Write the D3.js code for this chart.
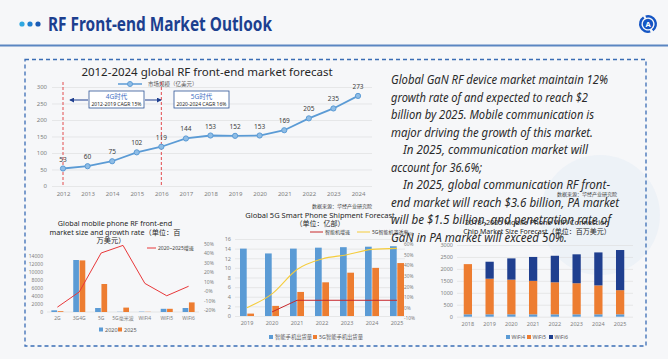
<!DOCTYPE html>
<html><head><meta charset="utf-8">
<script src="https://cdn.jsdelivr.net/npm/d3@7"></script>
<style>
body{margin:0;background:#f6f7f9;}
svg{display:block;}
text{font-family:"Noto Sans","Noto Sans CJK SC",sans-serif;}
</style></head>
<body>
<svg id="c" width="668" height="359"></svg>
<script>
// ---------- DATA ----------
const pageTitle = "RF Front-end Market Outlook";

const rfYears = ["2012","2013","2014","2015","2016","2017","2018","2019","2020","2021","2022","2023","2024"];
const rfMarket = [53,60,75,102,119,144,153,152,153,169,205,235,273];
const rfTicks = [0,50,100,150,200,250,300];

const paragraph = [
  "Global GaN RF device market maintain 12%",
  "growth rate of and expected to reach $2",
  "billion by 2025. Mobile communication is",
  "major driving the growth of this market.",
  "In 2025, communication market will",
  "account for 36.6%;",
  "In 2025, global communication RF front-",
  "end market will reach $3.6 billion, PA market",
  "will be $1.5 billion, and penetration rate of",
  "GaN in PA market will exceed 50%."
];
const paragraphIndent = [0,0,0,0,1,0,1,0,0,0];
const paragraphWidth = [217,197,203,202,185,91,207,228,220,176];

const phoneCats = ["2G","3G4G","5G","5G毫米波","WiFi4","WiFi5","WiFi6"];
const phone2020 = [420,13000,1000,50,80,800,1000];
const phone2025 = [200,12900,7000,1100,50,800,2400];
const phoneGrowth = [-17,-1,40,48,8,-5,5];
const phoneTicks = [0,2000,4000,6000,8000,10000,12000,14000];
const phoneRateTicks = [-20,-10,0,10,20,30,40,50];
const phoneRateLabels = ["-20%","-10%","-0%","10%","20%","30%","40%","50%"];

const shipYears = ["2019","2020","2021","2022","2023","2024","2025"];
const shipAll = [14,13,14,14.2,14.3,14.4,14.5];
const ship5G = [0.5,2.1,5,7,9,10,11];
const shipGrowth = [null,-4,7,7,7,7,7];
const ship5GRate = [0,13,36,46,50,55,56];
const shipTicks = [0,2,4,6,8,10,12,14,16];
const shipRateTicks = [-10,0,10,20,30,40,50,60,70];

const wifiYears = ["2018","2019","2020","2021","2022","2023","2024","2025"];
const wifi4 = [100,100,100,100,100,100,100,100];
const wifi5 = [2100,1490,1450,1400,1340,1300,1210,1010];
const wifi6 = [0,710,890,1000,1110,1210,1380,1680];
const wifiTicks = [0,500,1000,1500,2000,2500,3000];

// ---------- DRAW ----------
const svg = d3.select("#c");
const BLUE="#5b9bd5", ORANGE="#ed7d31", NAVY="#1f3f8f", GRID="#dcdcdc", AX="#7f7f7f";
const pct = v => (v<0?"-":"") + Math.abs(v) + "%";
const plain = d3.format("d");

// background watermark
svg.append("circle").attr("cx",600).attr("cy",215).attr("r",60).attr("fill","#e9f0f7").attr("opacity",0.7);

// header
[["#2fa8e0",22],["#1f7fd0",30],["#1a5bb5",38]].forEach(([c,x])=>
  svg.append("circle").attr("cx",x).attr("cy",24).attr("r",2.6).attr("fill",c));
svg.append("text").attr("x",48).attr("y",31).attr("font-size",20).attr("font-weight",700)
  .attr("fill","#1c3f8f").attr("textLength",224).attr("lengthAdjust","spacingAndGlyphs").text(pageTitle);
svg.append("line").attr("x1",0).attr("x2",668).attr("y1",45.5).attr("y2",45.5).attr("stroke","#5a86c2").attr("stroke-width",2);
// logo
const lg = svg.append("g").attr("transform","translate(648,24)");
lg.append("path").attr("d",d3.arc()({innerRadius:6.5,outerRadius:9,startAngle:-0.3,endAngle:2.5})).attr("fill","#1656c4");
lg.append("path").attr("d",d3.arc()({innerRadius:6.5,outerRadius:9,startAngle:2.85,endAngle:5.7})).attr("fill","#1656c4");
lg.append("circle").attr("r",5.2).attr("fill","#1656c4");
lg.append("text").attr("y",3).attr("text-anchor","middle").attr("font-size",7.5).attr("font-weight",700).attr("fill","#fff").text("A");

// dashed frame
svg.append("rect").attr("x",25).attr("y",59.5).attr("width",621).attr("height",286.5)
  .attr("fill","none").attr("stroke","#3a6db5").attr("stroke-width",1.3).attr("stroke-dasharray","4,3");

// ===== Chart 1: line =====
{
  const g = svg.append("g");
  const x = d3.scalePoint().domain(rfYears).range([63,358]);
  const y = d3.scaleLinear().domain([0,300]).range([186,87]);
  g.append("text").attr("x",207).attr("y",76).attr("text-anchor","middle").attr("font-size",11.5).attr("fill","#262626").text("2012-2024 global RF front-end market forecast");
  const ya = g.append("g").attr("transform","translate(52,0)")
    .call(d3.axisLeft(y).tickValues(rfTicks).tickSize(-320).tickPadding(5));
  ya.select(".domain").remove();
  ya.selectAll("line").attr("stroke",GRID).attr("stroke-width",0.6);
  ya.selectAll("text").attr("font-size",6).attr("fill",AX);
  const xa = g.append("g").attr("transform","translate(0,186)").call(d3.axisBottom(x).tickSize(0).tickPadding(6));
  xa.select(".domain").remove();
  xa.selectAll("text").attr("font-size",6).attr("fill",AX);
  // legend
  g.append("line").attr("x1",118).attr("x2",142).attr("y1",84).attr("y2",84).attr("stroke",BLUE).attr("stroke-width",1.5);
  g.append("circle").attr("cx",130).attr("cy",84).attr("r",2.5).attr("fill","#8fbde6").attr("stroke",BLUE);
  g.append("text").attr("x",148).attr("y",86).attr("font-size",5.5).attr("fill","#595959").text("市场规模（亿美元）");
  // red dashed era lines
  ["2012","2016"].forEach(yr=>g.append("line").attr("x1",x(yr)).attr("x2",x(yr)).attr("y1",82).attr("y2",186)
    .attr("stroke","#e0383a").attr("stroke-width",0.9).attr("stroke-dasharray","3,2"));
  // era boxes
  const box=(x0,w,t1,t2)=>{
    g.append("rect").attr("x",x0).attr("y",91).attr("width",w).attr("height",17).attr("fill","#fff").attr("stroke","#2f5597").attr("stroke-width",0.8);
    g.append("text").attr("x",x0+w/2).attr("y",99).attr("text-anchor","middle").attr("font-size",6.5).attr("fill","#4472c4").text(t1);
    g.append("text").attr("x",x0+w/2).attr("y",105.5).attr("text-anchor","middle").attr("font-size",5).attr("fill","#262626").text(t2);
  };
  box(89,55,"4G时代","2012-2019 CAGR 15%");
  box(174,55,"5G时代","2020-2024 CAGR 16%");
  const defs = svg.append("defs");
  defs.append("marker").attr("id","ah").attr("viewBox","0 0 6 6").attr("refX",5).attr("refY",3)
    .attr("markerWidth",5).attr("markerHeight",5).attr("orient","auto-start-reverse")
    .append("path").attr("d","M0,0L6,3L0,6Z").attr("fill","#1f3f8f");
  g.append("line").attr("x1",88).attr("x2",70).attr("y1",100).attr("y2",100).attr("stroke","#1f3f8f").attr("marker-end","url(#ah)");
  g.append("line").attr("x1",145).attr("x2",161).attr("y1",100).attr("y2",100).attr("stroke","#1f3f8f").attr("marker-end","url(#ah)");
  // line
  g.append("path").datum(rfMarket).attr("fill","none").attr("stroke",BLUE).attr("stroke-width",1.8)
    .attr("d",d3.line().x((d,i)=>x(rfYears[i])).y(d=>y(d)));
  g.selectAll(".pt").data(rfMarket).join("circle").attr("cx",(d,i)=>x(rfYears[i])).attr("cy",d=>y(d))
    .attr("r",2.6).attr("fill","#8fbde6").attr("stroke",BLUE).attr("stroke-width",1);
  g.selectAll(".lb").data(rfMarket).join("text").attr("x",(d,i)=>x(rfYears[i])).attr("y",d=>y(d)-7)
    .attr("text-anchor","middle").attr("font-size",6.5).attr("fill","#404040").text(d=>d);
  g.append("text").attr("x",372).attr("y",208).attr("text-anchor","end").attr("font-size",5).attr("fill","#404040").text("数据来源：华经产业研究院");
}

// ===== Chart 2: phone RF grouped bars =====
{
  const g = svg.append("g");
  ["Global mobile phone RF front-end","market size and growth rate（单位：百","万美元）"].forEach((t,i)=>
    g.append("text").attr("x",[115,115,111][i]).attr("y",226+i*8.5).attr("text-anchor","middle").attr("font-size",7.2).attr("fill","#262626").text(t));
  const x = d3.scaleBand().domain(phoneCats).range([47,199]).paddingInner(0.45).paddingOuter(0.2);
  const xs = d3.scaleBand().domain(["a","b"]).range([0,x.bandwidth()]).paddingInner(0.1);
  const y = d3.scaleLinear().domain([0,14000]).range([312,256]);
  const y2 = d3.scaleLinear().domain([-20,50]).range([310,243.5]);
  const ya = g.append("g").attr("transform","translate(47,0)").call(d3.axisLeft(y).tickValues(phoneTicks).tickFormat(plain).tickSize(0).tickPadding(4));
  ya.select(".domain").remove(); ya.selectAll("text").attr("font-size",5).attr("fill",AX);
  const yb = g.append("g").attr("transform","translate(201,0)").call(d3.axisRight(y2).tickValues(phoneRateTicks).tickFormat((d,i)=>phoneRateLabels[i]).tickSize(0).tickPadding(3));
  yb.select(".domain").remove(); yb.selectAll("text").attr("font-size",5).attr("fill",AX);
  g.append("line").attr("x1",47).attr("x2",199).attr("y1",312).attr("y2",312).attr("stroke",GRID).attr("stroke-width",0.7);
  const xa = g.append("g").attr("transform","translate(0,312)").call(d3.axisBottom(x).tickSize(0).tickPadding(4));
  xa.select(".domain").remove(); xa.selectAll("text").attr("font-size",5).attr("fill",AX);
  g.selectAll(".b1").data(phone2020).join("rect").attr("x",(d,i)=>x(phoneCats[i])+xs("a")).attr("width",xs.bandwidth())
    .attr("y",d=>y(d)).attr("height",d=>312-y(d)).attr("fill",BLUE);
  g.selectAll(".b2").data(phone2025).join("rect").attr("x",(d,i)=>x(phoneCats[i])+xs("b")).attr("width",xs.bandwidth())
    .attr("y",d=>y(d)).attr("height",d=>312-y(d)).attr("fill",ORANGE);
  g.append("path").datum(phoneGrowth).attr("fill","none").attr("stroke","#e8383a").attr("stroke-width",1)
    .attr("d",d3.line().x((d,i)=>x(phoneCats[i])+x.bandwidth()/2).y(d=>y2(d)));
  g.append("line").attr("x1",147).attr("x2",156).attr("y1",248).attr("y2",248).attr("stroke","#e8383a").attr("stroke-width",1);
  g.append("text").attr("x",158).attr("y",250).attr("font-size",5).attr("fill","#404040").text("2020~2025增速");
  [["2020",BLUE,99],["2025",ORANGE,118]].forEach(([t,c,lx])=>{
    g.append("rect").attr("x",lx).attr("y",327.5).attr("width",4).attr("height",4).attr("fill",c);
    g.append("text").attr("x",lx+6).attr("y",331.5).attr("font-size",5.5).attr("fill","#595959").text(t);
  });
}

// ===== Chart 3: 5G shipment =====
{
  const g = svg.append("g");
  g.append("text").attr("x",320).attr("y",218).attr("text-anchor","middle").attr("font-size",7.5).attr("fill","#262626").text("Global 5G Smart Phone Shipment Forecast");
  g.append("text").attr("x",320).attr("y",226).attr("text-anchor","middle").attr("font-size",7).attr("fill","#262626").text("（单位：亿部）");
  const x = d3.scaleBand().domain(shipYears).range([234.5,409.5]).paddingInner(0.44).paddingOuter(0.22);
  const xs = d3.scaleBand().domain(["a","b"]).range([0,x.bandwidth()]).paddingInner(0.08);
  const y = d3.scaleLinear().domain([0,16]).range([316,239]);
  const y2 = d3.scaleLinear().domain([-10,70]).range([318.3,233.5]);
  const ya = g.append("g").attr("transform","translate(235,0)").call(d3.axisLeft(y).tickValues(shipTicks).tickSize(-170).tickPadding(4));
  ya.select(".domain").remove(); ya.selectAll("line").attr("stroke",GRID).attr("stroke-width",0.6);
  ya.selectAll("text").attr("font-size",5.5).attr("fill",AX);
  const yb = g.append("g").attr("transform","translate(404,0)").call(d3.axisRight(y2).tickValues(shipRateTicks).tickFormat(pct).tickSize(0).tickPadding(0));
  yb.select(".domain").remove(); yb.selectAll("text").attr("font-size",4.8).attr("fill",AX);
  const xa = g.append("g").attr("transform","translate(0,316)").call(d3.axisBottom(x).tickSize(0).tickPadding(5));
  xa.select(".domain").remove(); xa.selectAll("text").attr("font-size",5.5).attr("fill",AX);
  g.selectAll(".b1").data(shipAll).join("rect").attr("x",(d,i)=>x(shipYears[i])+xs("a")).attr("width",xs.bandwidth())
    .attr("y",d=>y(d)).attr("height",d=>316-y(d)).attr("fill",BLUE);
  g.selectAll(".b2").data(ship5G).join("rect").attr("x",(d,i)=>x(shipYears[i])+xs("b")).attr("width",xs.bandwidth())
    .attr("y",d=>y(d)).attr("height",d=>316-y(d)).attr("fill",ORANGE);
  const cx = i => x(shipYears[i])+x.bandwidth()/2;
  g.append("path").datum(ship5GRate).attr("fill","none").attr("stroke","#f5cc3c").attr("stroke-width",1.1)
    .attr("d",d3.line().curve(d3.curveMonotoneX).x((d,i)=>cx(i)).y(d=>y2(d)));
  g.append("path").datum(shipGrowth).attr("fill","none").attr("stroke","#c8282b").attr("stroke-width",1)
    .attr("d",d3.line().defined(d=>d!==null).x((d,i)=>cx(i)).y(d=>y2(d)));
  g.append("line").attr("x1",310).attr("x2",323).attr("y1",232).attr("y2",232).attr("stroke","#c8282b").attr("stroke-width",1);
  g.append("text").attr("x",325).attr("y",234).attr("font-size",5).attr("fill","#404040").text("智能机增速");
  g.append("line").attr("x1",357).attr("x2",370).attr("y1",232).attr("y2",232).attr("stroke","#f5cc3c").attr("stroke-width",1);
  g.append("text").attr("x",372).attr("y",234).attr("font-size",5).attr("fill","#404040").text("5G智能机渗透率");
  [["智能手机出货量",BLUE,269],["5G智能手机出货量",ORANGE,313]].forEach(([t,c,lx])=>{
    g.append("rect").attr("x",lx).attr("y",335).attr("width",4).attr("height",4).attr("fill",c);
    g.append("text").attr("x",lx+6).attr("y",339).attr("font-size",5.3).attr("fill","#595959").text(t);
  });
}

// ===== Chart 4: WiFi stacked =====
{
  const g = svg.append("g");
  g.append("text").attr("x",537).attr("y",225).attr("text-anchor","middle").attr("font-size",7.3).attr("fill","#262626").text("2018~2025 Mobile Phone WiFi Connection");
  g.append("text").attr("x",537).attr("y",234).attr("text-anchor","middle").attr("font-size",7).attr("fill","#262626").text("Chip Market Size Forecast（单位：百万美元）");
  const x = d3.scaleBand().domain(wifiYears).range([457,631]).paddingInner(0.62).paddingOuter(0.31);
  const y = d3.scaleLinear().domain([0,3000]).range([316.7,245]);
  const ya = g.append("g").attr("transform","translate(457,0)").call(d3.axisLeft(y).tickValues(wifiTicks).tickFormat(plain).tickSize(-176).tickPadding(4));
  ya.select(".domain").remove(); ya.selectAll("line").attr("stroke",GRID).attr("stroke-width",0.6);
  ya.selectAll("text").attr("font-size",5.5).attr("fill",AX);
  const xa = g.append("g").attr("transform","translate(0,316.7)").call(d3.axisBottom(x).tickSize(0).tickPadding(5));
  xa.select(".domain").remove(); xa.selectAll("text").attr("font-size",5.5).attr("fill",AX);
  const rows = wifiYears.map((yr,i)=>({yr,wifi4:wifi4[i],wifi5:wifi5[i],wifi6:wifi6[i]}));
  const st = d3.stack().keys(["wifi4","wifi5","wifi6"])(rows);
  const cols = {wifi4:BLUE,wifi5:ORANGE,wifi6:NAVY};
  st.forEach(s=>g.selectAll(null).data(s).join("rect").attr("x",d=>x(d.data.yr)).attr("width",x.bandwidth())
    .attr("y",d=>y(d[1])).attr("height",d=>y(d[0])-y(d[1])).attr("fill",cols[s.key]));
  [["WiFi4",BLUE,506],["WiFi5",ORANGE,527],["WiFi6",NAVY,549]].forEach(([t,c,lx])=>{
    g.append("rect").attr("x",lx).attr("y",335).attr("width",4).attr("height",4).attr("fill",c);
    g.append("text").attr("x",lx+5.5).attr("y",339).attr("font-size",5.3).attr("fill","#595959").text(t);
  });
}

// ===== Paragraph =====
{
  const g = svg.append("g");
  g.append("text").attr("x",617).attr("y",196).attr("text-anchor","end").attr("font-size",5).attr("fill","#404040").text("数据来源：华经产业研究院");
  paragraph.forEach((t,i)=>{
    const x0 = paragraphIndent[i] ? 403 : 391;
    g.append("text").attr("x",x0).attr("y",84+i*17.5).attr("font-size",12.5).attr("fill","#2a2a2a")
      .attr("font-family","'DejaVu Sans',sans-serif").attr("font-style","italic")
      .attr("textLength",paragraphWidth[i]).attr("lengthAdjust","spacingAndGlyphs").text(t);
  });
}
</script>
</body></html>
